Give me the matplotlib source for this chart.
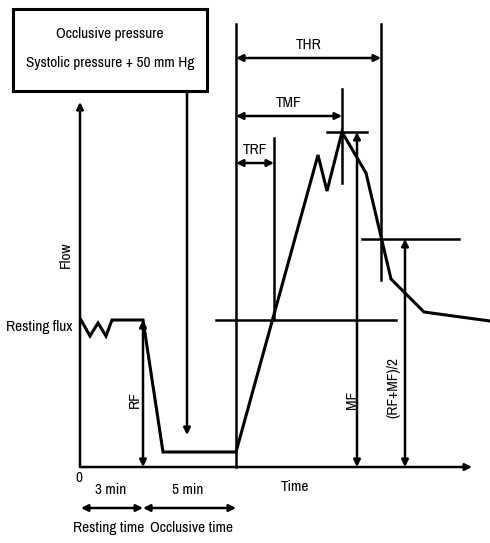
import matplotlib
matplotlib.use("Agg")
import matplotlib.pyplot as plt
from matplotlib.patches import Rectangle

plt.rcParams['font.family'] = ['Archivo Narrow', 'DejaVu Sans']

# flow trace (time in px-like units from origin, flow above baseline)
flow_time = [1, 10, 18, 26, 32, 63, 83, 156, 238, 247, 262, 286, 311, 344, 410]
flow_value = [147, 131, 144, 131, 147, 147, 15, 15, 312, 276, 335, 294, 188, 155, 146]

resting_flux = 147
max_flux = 335
half_flux = 228

t_rest_end = 63
t_occl_end = 156
t_rf = 194
t_mf = 262
t_hr = 301

# markers: (t, f_from, f_to)
vert_lines = [(t_occl_end, 0, 443), (t_hr, 187, 443), (t_mf, 284, 378), (t_rf, resting_flux, 329)]
# (f, t_from, t_to)
horiz_lines = [(resting_flux, 136, 316), (max_flux, 247, 287), (half_flux, 282, 379)]

# time interval arrows: label, level, end
time_arrows = [("THR", 409, t_hr), ("TMF", 351, t_mf), ("TRF", 304, t_rf)]
# flow amplitude arrows: label, t, top, label_x, label_y
flow_arrows = [("RF", t_rest_end, resting_flux, 55, 67),
               ("MF", 277, max_flux, 272, 67),
               ("(RF+MF)/2", 325, half_flux, 313, 80)]

fs = 11

fig = plt.figure(figsize=(4.9, 5.43), dpi=100)
ax = fig.add_axes([0, 0, 1, 1])
ax.set_xlim(-80, 410)
ax.set_ylim(-76, 467)
ax.axis('off')

lw = 1.8
arr = dict(arrowstyle='-|>', color='black', lw=lw, mutation_scale=10, shrinkA=0, shrinkB=0)
arr2 = dict(arrowstyle='<|-|>', color='black', lw=lw, mutation_scale=10, shrinkA=0, shrinkB=0)

# axes arrows
ax.annotate('', xy=(0, 365), xytext=(0, 0), arrowprops=arr)
ax.annotate('', xy=(392, 0), xytext=(0, 0), arrowprops=arr)

ax.plot(flow_time, flow_value, color='black', lw=2.2, solid_joinstyle='miter')

for t, f0, f1 in vert_lines:
    ax.plot([t, t], [f0, f1], color='black', lw=lw)
for f, t0, t1 in horiz_lines:
    ax.plot([t0, t1], [f, f], color='black', lw=lw)

for label, f, t1 in time_arrows:
    ax.annotate('', xy=(t1, f), xytext=(t_occl_end, f), arrowprops=arr2)
    ax.text((t_occl_end + t1) / 2, f + 6, label, ha='center', va='bottom', fontsize=fs)

for label, t, top, lx, ly in flow_arrows:
    ax.annotate('', xy=(t, top), xytext=(t, 0), arrowprops=arr2)
    ax.text(lx, ly, label, rotation=90, ha='center', va='center', fontsize=fs)

# occlusive pressure box and arrow
ax.add_patch(Rectangle((-67, 376), 194, 82, fill=False, lw=2.2, ec='black'))
ax.text(30, 433, "Occlusive pressure", ha='center', va='center', fontsize=fs)
ax.text(30, 404, "Systolic pressure + 50 mm Hg", ha='center', va='center', fontsize=fs)
ax.annotate('', xy=(107, 32), xytext=(107, 376), arrowprops=arr)

# axis labels
ax.text(-14, 212, "Flow", rotation=90, ha='center', va='center', fontsize=fs)
ax.text(-8, 140, "Resting flux", ha='right', va='center', fontsize=fs)
ax.text(-1, -11, "0", ha='center', va='center', fontsize=fs)
ax.text(215, -20, "Time", ha='center', va='center', fontsize=fs)

# bottom phases
ax.text(31, -23, "3 min", ha='center', va='center', fontsize=fs)
ax.text(108, -23, "5 min", ha='center', va='center', fontsize=fs)
ax.annotate('', xy=(t_rest_end, -41), xytext=(1, -41), arrowprops=arr2)
ax.annotate('', xy=(t_occl_end, -41), xytext=(t_rest_end, -41), arrowprops=arr2)
ax.text(29, -61, "Resting time", ha='center', va='center', fontsize=fs)
ax.text(111, -61, "Occlusive time", ha='center', va='center', fontsize=fs)

fig.savefig("out.png", dpi=100)
